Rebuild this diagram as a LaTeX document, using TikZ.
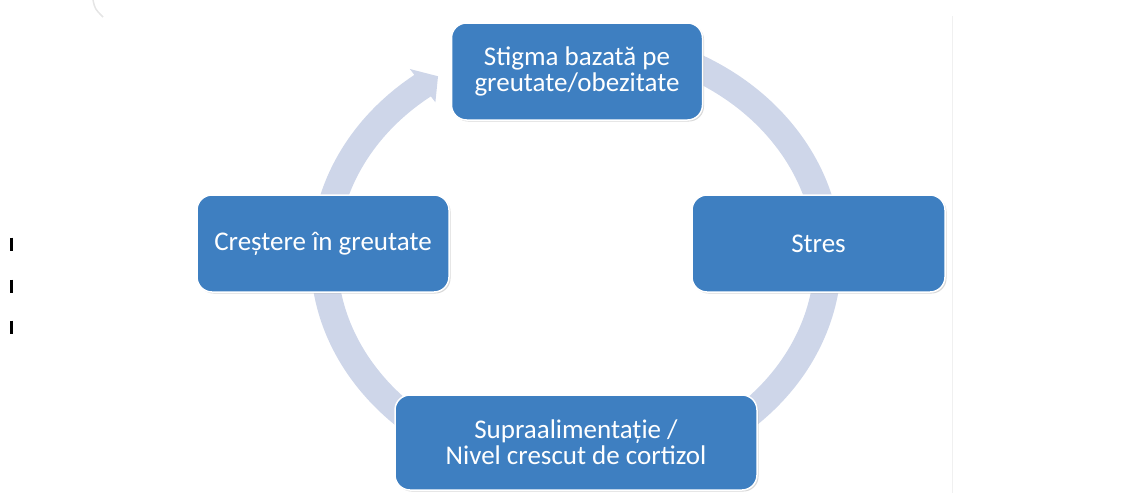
\documentclass[tikz,border=0pt]{standalone}
\usepackage{fontspec}
\setmainfont{Carlito}
\usetikzlibrary{shadows}
\definecolor{boxblue}{RGB}{62,127,193}
\definecolor{ringblue}{RGB}{206,214,233}
\tikzset{cycbox/.style = {fill = boxblue, draw = white, line width = 1.5pt,
                          rounded corners = 15pt, text = white, align = center,
                          inner sep = 0, minimum height = 97pt,
                          drop shadow = {shadow xshift = 1.5pt, shadow yshift = -1.5pt,
                                         fill = black!30, opacity = 0.5},
                          font = \fontsize{27pt}{26pt}\selectfont}}
\tikzset{ring/.style = {ringblue, line width = 27pt}}

\begin{document}
\begin{tikzpicture}[x = 1pt, y = -1pt]
    \useasboundingbox (0, 0) rectangle (1126, 493);

    % faint marks of the page
    \draw [black!6] (952.5, 16) -- (952.5, 493);
    \draw [black!10, line width = 1.5pt] (93, 0) .. controls (95, 9) .. (103, 17);
    \foreach \y in {244, 286, 327}
        \draw [line width = 3pt] (11.5, \y - 6.5) -- (11.5, \y + 6.5);

    % the cycle ring and its head
    \draw [ring] (576, 257) ++({252*cos(-126.5)}, {216*sin(-126.5)})
        arc [start angle = -126.5, end angle = -450, x radius = 252, y radius = 216];
    \fill [ringblue] ({576 + 273*cos(-127.5)}, {257 + 237*sin(-127.5)})
        -- ({576 + 252*cos(-123.2)}, {257 + 216*sin(-123.2)})
        -- ({576 + 231*cos(-127.5)}, {257 + 195*sin(-127.5)}) -- cycle;

    \node [cycbox, minimum width = 251pt] (stigma) at (577, 71.5) {Stigma bazată pe\\greutate/obezitate};
    \node [cycbox, minimum width = 253pt] (stres) at (818.5, 243.5) {Stres};
    \node [cycbox, minimum width = 362pt, minimum height = 95pt] (supra) at (576, 442.5)
        {Supraalimentație /\\ Nivel crescut de cortizol};
    \node [cycbox, minimum width = 252pt] (crestere) at (323, 243.5) {Creștere în greutate};
\end{tikzpicture}
\end{document}
